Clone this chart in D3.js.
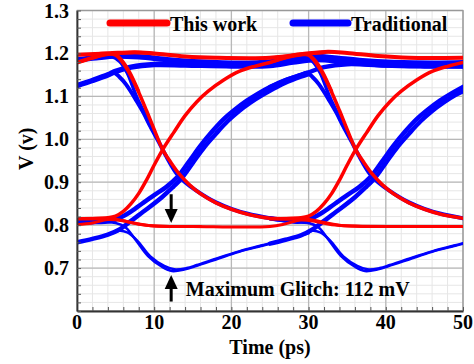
<!DOCTYPE html>
<html>
<head>
<meta charset="utf-8">
<script src="https://cdn.jsdelivr.net/npm/d3@7"></script>
<style>
  body { margin: 0; background: #fff; }
  svg text { font-family: "Liberation Serif", "Times New Roman", serif; font-weight: bold; fill: #000; }
</style>
</head>
<body>
<div id="chart"></div>
<script>
// tick values
const timeTicks = [0, 10, 20, 30, 40, 50];
const voltTicks = [0.7, 0.8, 0.9, 1.0, 1.1, 1.2, 1.3];

// "This work" traces, [time ps, volts]
const redHigh = [[0,1.197],[4,1.2],[7.5,1.203],[10,1.2],[14,1.193],[18,1.19],[25,1.19],[29,1.198],[32.5,1.204],[35,1.201],[39,1.194],[43,1.19],[50,1.19]];
const redRiseTail = [[0,1.179],[2,1.19],[4,1.198],[7.5,1.202],[10,1.199]];
const redFall1 = [[0,1.178],[2,1.189],[4,1.199],[5,1.196],[5.6,1.186],[6.6,1.16],[7.9,1.113],[9,1.067],[9.9,1.027],[11.1,0.976],[12.2,0.945],[13.3,0.918],[14.5,0.895],[16,0.873],[18,0.852],[20,0.837],[22,0.826],[25,0.816],[27,0.815],[29,0.815]];
const redFall1b = [[2,1.198],[4,1.201],[5,1.198],[5.8,1.185],[6.8,1.158],[8,1.112]];
const redRise1 = [[0,0.815],[2,0.815],[4,0.817],[5,0.821],[6,0.832],[7,0.85],[8,0.874],[9,0.905],[10,0.94],[11.1,0.976],[12.5,1.015],[14,1.055],[15.5,1.087],[17,1.112],[19,1.138],[21,1.158],[23,1.17],[25,1.179],[27,1.19],[29,1.197],[32,1.202]];
const redLow = [[0,0.801],[2,0.805],[4,0.813],[6,0.81],[8,0.802],[10,0.798],[15,0.797],[25,0.797],[27,0.803],[29,0.812],[31,0.808],[33,0.801],[36,0.798],[42,0.797],[50,0.797]];
const redFallLow1 = [[0,0.815],[3,0.816],[5,0.814],[7,0.806],[9,0.8],[12,0.797],[16,0.797]];
const redFall2 = [[25,1.19],[27,1.193],[29,1.198],[30,1.196],[30.6,1.186],[31.6,1.16],[32.9,1.113],[34,1.067],[34.9,1.027],[36.1,0.976],[37.2,0.945],[38.3,0.918],[39.5,0.895],[41,0.873],[43,0.852],[45,0.837],[47,0.826],[50,0.816]];
const redFall2b = [[25,1.179],[27,1.19],[29,1.198],[30,1.197],[30.8,1.185],[31.8,1.158],[33,1.112]];
const redRise2 = [[25,0.815],[27,0.815],[29,0.817],[30,0.821],[31,0.832],[32,0.85],[33,0.874],[34,0.905],[35,0.94],[36.1,0.976],[37.5,1.015],[39,1.055],[40.5,1.087],[42,1.112],[44,1.138],[46,1.158],[48,1.17],[50,1.179]];
const redFallLow2 = [[25,0.815],[28,0.816],[30,0.814],[32,0.806],[34,0.8],[37,0.797],[41,0.797]];

// "Traditional" traces
const blueHigh = [[0,1.185],[2.5,1.19],[5,1.194],[8,1.192],[12,1.185],[16,1.18],[21,1.177],[25,1.18],[27.5,1.188],[30,1.194],[33,1.19],[37,1.183],[41,1.179],[46,1.177],[50,1.178]];
const blueRiseHigh1 = [[0,1.125],[2,1.137],[4,1.15],[5,1.158],[7,1.168],[10,1.174],[14,1.173],[20,1.171],[25,1.172],[28,1.18],[31,1.186],[35,1.18],[40,1.173],[45,1.171],[50,1.171]];
const blueFall1 = [[0,1.125],[2,1.137],[4,1.15],[4.8,1.155],[5.5,1.145],[6.3,1.129],[7.7,1.09],[8.6,1.062],[9.5,1.03],[10.7,0.99],[11.5,0.962],[12.9,0.92],[14,0.9],[15.5,0.88],[18,0.853],[20,0.838],[22,0.827],[25,0.816],[27,0.811],[29,0.808],[30,0.807]];
const blueFall1b = [[0,1.185],[2.5,1.19],[4.5,1.193],[5.5,1.182],[6.5,1.155],[7.7,1.1],[8.6,1.066],[9.5,1.032]];
const blueRise1 = [[0,0.807],[2,0.807],[3.6,0.808],[5,0.813],[6.2,0.823],[7.5,0.838],[8.5,0.851],[10,0.87],[11.5,0.888],[13,0.912],[14.5,0.948],[16,0.985],[17.5,1.018],[19,1.047],[20.5,1.07],[22,1.09],[23.5,1.107],[25,1.122],[27,1.138],[29,1.15],[30,1.156],[32,1.168],[35,1.175],[40,1.172],[50,1.17]];
const blueRise1b = [[0,0.76],[2,0.768],[4,0.778],[5.5,0.79],[7,0.81],[8.8,0.834],[11,0.865],[12.5,0.89],[13.5,0.908],[15,0.945],[16.5,0.982],[18,1.013],[19.5,1.042],[21,1.066],[22.5,1.086],[24,1.103],[25.5,1.118],[27,1.132],[29,1.146],[30,1.152]];
const blueGlitch1 = [[0,0.807],[2,0.807],[3.6,0.807],[5,0.805],[6.2,0.796],[7.5,0.768],[9.2,0.728],[11,0.703],[12.3,0.693],[14,0.697],[15.3,0.704],[18,0.72],[21,0.738],[24,0.752],[25,0.757],[27,0.766],[29,0.776],[30,0.781]];
const blueGlitch1b = [[0,0.76],[2,0.768],[4,0.778],[5.5,0.787],[6.5,0.783],[7.8,0.764],[9.5,0.727],[11.3,0.705],[12.6,0.697],[14.2,0.7],[15.5,0.707],[18,0.722],[21,0.739],[24,0.753],[25,0.758]];
const blueFall2 = [[25,1.122],[27,1.138],[29,1.15],[29.8,1.155],[30.5,1.145],[31.3,1.129],[32.7,1.09],[33.6,1.062],[34.5,1.03],[35.7,0.99],[36.5,0.962],[37.9,0.92],[39,0.9],[40.5,0.88],[43,0.853],[45,0.838],[47,0.827],[50,0.816]];
const blueFall2b = [[25,1.18],[27.5,1.188],[29.5,1.193],[30.5,1.182],[31.5,1.155],[32.7,1.1],[33.6,1.066],[34.5,1.032]];
const blueRise2 = [[25,0.816],[27,0.811],[28.6,0.808],[30,0.813],[31.2,0.823],[32.5,0.838],[33.5,0.851],[35,0.87],[36.5,0.888],[38,0.912],[39.5,0.948],[41,0.985],[42.5,1.018],[44,1.047],[45.5,1.07],[47,1.09],[48.5,1.107],[50,1.122]];
const blueRise2b = [[25,0.757],[27,0.766],[29,0.776],[30.5,0.79],[32,0.81],[33.8,0.834],[36,0.865],[37.5,0.89],[38.5,0.908],[40,0.945],[41.5,0.982],[43,1.013],[44.5,1.042],[46,1.066],[47.5,1.086],[49,1.103],[50,1.112]];
const blueGlitch2 = [[25,0.816],[27,0.811],[28.6,0.808],[30,0.805],[31.2,0.796],[32.5,0.768],[34.2,0.728],[36,0.703],[37.3,0.693],[39,0.697],[40.3,0.704],[43,0.72],[46,0.738],[49,0.752],[50,0.757]];
const blueGlitch2b = [[25,0.757],[27,0.766],[29,0.776],[30.5,0.787],[31.5,0.783],[32.8,0.764],[34.5,0.727],[36.3,0.705],[37.6,0.697],[39.2,0.7],[40.5,0.707],[43,0.722],[46,0.739],[49,0.753],[50,0.758]];

// annotation values
const glitchTime = 12.2;
const glitchTop = 0.805;
const glitchBottom = 0.684;
const glitchLabel = "Maximum Glitch: 112 mV";

const width = 474, height = 364;
const margin = {left: 77, top: 10.5, right: 11, bottom: 53};

const x = d3.scaleLinear().domain([0, 50]).range([margin.left, width - margin.right]);
const y = d3.scaleLinear().domain([0.6, 1.3]).range([height - margin.bottom, margin.top]);

const svg = d3.select("#chart").append("svg")
    .attr("width", width)
    .attr("height", height);

// grid, minor then major
const minorX = d3.range(0, 50.01, 2);
const minorY = d3.range(0.6, 1.3001, 0.02);
const grid = svg.append("g");
grid.selectAll("line.mx").data(minorX).enter().append("line")
    .attr("x1", d => x(d)).attr("x2", d => x(d))
    .attr("y1", y(0.6)).attr("y2", y(1.3))
    .attr("stroke", "#e6e6e6").attr("stroke-width", 1);
grid.selectAll("line.my").data(minorY).enter().append("line")
    .attr("y1", d => y(d)).attr("y2", d => y(d))
    .attr("x1", x(0)).attr("x2", x(50))
    .attr("stroke", "#e6e6e6").attr("stroke-width", 1);
grid.selectAll("line.Mx").data(timeTicks).enter().append("line")
    .attr("x1", d => x(d)).attr("x2", d => x(d))
    .attr("y1", y(0.6)).attr("y2", y(1.3))
    .attr("stroke", "#b8b8b8").attr("stroke-width", 1.3);
grid.selectAll("line.My").data(voltTicks).enter().append("line")
    .attr("y1", d => y(d)).attr("y2", d => y(d))
    .attr("x1", x(0)).attr("x2", x(50))
    .attr("stroke", "#b8b8b8").attr("stroke-width", 1.3);

svg.append("rect")
    .attr("x", x(0)).attr("y", y(1.3))
    .attr("width", x(50) - x(0)).attr("height", y(0.6) - y(1.3))
    .attr("fill", "none").attr("stroke", "#999").attr("stroke-width", 1.2);

svg.append("clipPath").attr("id", "clip").append("rect")
    .attr("x", x(0)).attr("y", y(1.3))
    .attr("width", x(50) - x(0)).attr("height", y(0.6) - y(1.3));

const line = d3.line()
    .x(d => x(d[0]))
    .y(d => y(d[1]))
    .curve(d3.curveCatmullRom.alpha(0.5));

const blueTraces = [
  [blueHigh, 5.5], [blueRiseHigh1, 5.5],
  [blueFall1, 4], [blueFall1b, 3.5], [blueFall2, 4], [blueFall2b, 3.5],
  [blueRise1, 4.5], [blueRise1b, 4.5], [blueRise2, 4.5], [blueRise2b, 4.5],
  [blueGlitch1, 2.5], [blueGlitch1b, 2.5], [blueGlitch2, 2.5], [blueGlitch2b, 2.5]
];
const redTraces = [
  [redHigh, 4], [redRiseTail, 3.5],
  [redFall1, 3.5], [redFall1b, 3], [redFall2, 3.5], [redFall2b, 3],
  [redRise1, 3.5], [redRise2, 3.5],
  [redLow, 3], [redFallLow1, 3], [redFallLow2, 3]
];

const traces = svg.append("g").attr("clip-path", "url(#clip)");
traces.selectAll("path.blue").data(blueTraces).enter().append("path")
    .attr("d", d => line(d[0]))
    .attr("fill", "none").attr("stroke", "#0000ff")
    .attr("stroke-width", d => d[1]).attr("stroke-linecap", "round");
traces.selectAll("path.red").data(redTraces).enter().append("path")
    .attr("d", d => line(d[0]))
    .attr("fill", "none").attr("stroke", "#ff0000")
    .attr("stroke-width", d => d[1]).attr("stroke-linecap", "round");

// axes with small inside ticks
const xAxis = svg.append("g")
    .attr("transform", `translate(0,${y(0.6)})`)
    .call(d3.axisBottom(x).tickValues(minorX).tickSizeInner(-4).tickSizeOuter(0).tickFormat(""));
const yAxis = svg.append("g")
    .attr("transform", `translate(${x(0)},0)`)
    .call(d3.axisLeft(y).tickValues(minorY).tickSizeInner(-4).tickSizeOuter(0).tickFormat(""));
[xAxis, yAxis].forEach(a => {
  a.select(".domain").attr("stroke", "#333").attr("stroke-width", 1.8);
  a.selectAll(".tick line").attr("stroke", "#555").attr("stroke-width", 1);
});

svg.selectAll("text.xt").data(timeTicks).enter().append("text")
    .attr("x", d => x(d)).attr("y", y(0.6) + 18)
    .attr("text-anchor", "middle").style("font-size", "20px")
    .text(d => d);
svg.selectAll("text.yt").data(voltTicks).enter().append("text")
    .attr("x", x(0) - 8).attr("y", d => y(d)).attr("dy", "0.35em")
    .attr("text-anchor", "end").style("font-size", "20px")
    .text(d => d.toFixed(1));

svg.append("text")
    .attr("x", (x(0) + x(50)) / 2).attr("y", 354)
    .attr("text-anchor", "middle").style("font-size", "20px")
    .text("Time (ps)");
svg.append("text")
    .attr("transform", `translate(33,${(y(0.6) + y(1.3)) / 2 - 12}) rotate(-90)`)
    .attr("text-anchor", "middle").style("font-size", "20px")
    .text("V (v)");

// legend
const legend = [
  {label: "This work", color: "#ff0000", x1: 110, x2: 167},
  {label: "Traditional", color: "#0000ff", x1: 293, x2: 348}
];
const lg = svg.selectAll("g.legend").data(legend).enter().append("g");
lg.append("line")
    .attr("x1", d => d.x1).attr("x2", d => d.x2)
    .attr("y1", 23).attr("y2", 23)
    .attr("stroke", d => d.color).attr("stroke-width", 7).attr("stroke-linecap", "round");
lg.append("text")
    .attr("x", d => d.x2 + 3).attr("y", 30.5)
    .style("font-size", "20px")
    .text(d => d.label);

// glitch arrows
function arrow(tipV, tailV) {
  const tx = x(glitchTime), ty = y(tipV), by = y(tailV);
  const dir = by > ty ? 1 : -1;
  const g = svg.append("g");
  g.append("line")
      .attr("x1", tx).attr("x2", tx)
      .attr("y1", by).attr("y2", ty + dir * 10)
      .attr("stroke", "#000").attr("stroke-width", 3);
  g.append("path")
      .attr("d", `M${tx},${ty} L${tx - 6.5},${ty + dir * 14} L${tx + 6.5},${ty + dir * 14} Z`)
      .attr("fill", "#000");
}
arrow(glitchTop, 0.872);
arrow(glitchBottom, 0.622);

svg.append("text")
    .attr("x", x(14.1)).attr("y", y(0.6) - 15)
    .style("font-size", "20px")
    .text(glitchLabel);
</script>
</body>
</html>
